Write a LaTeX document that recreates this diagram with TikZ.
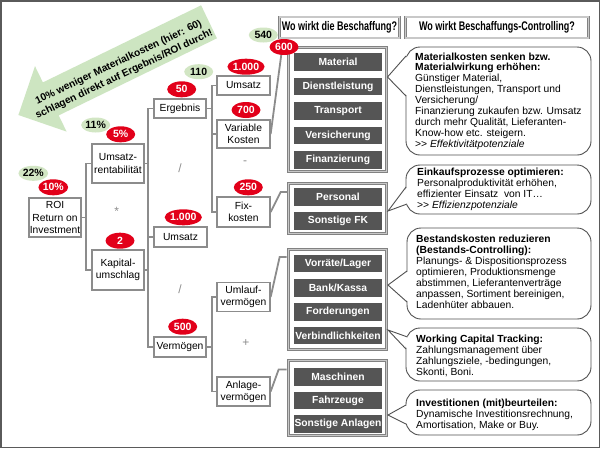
\documentclass[tikz,border=0pt]{standalone}
\usepackage{fontspec}
\setmainfont{Liberation Sans}
\newfontfamily\hdrfont[FakeStretch=0.72]{Liberation Sans}
\usetikzlibrary{shapes.geometric}
\definecolor{lgray}{RGB}{140,140,140}
\definecolor{boxgray}{RGB}{130,130,130}
\definecolor{boxlight}{RGB}{200,200,200}
\definecolor{dgray}{RGB}{85,85,85}
\definecolor{redn}{RGB}{226,0,26}
\definecolor{greenn}{RGB}{210,230,196}
\definecolor{arrowgreen}{RGB}{205,229,193}
\definecolor{framec}{RGB}{90,90,90}
\definecolor{bubc}{RGB}{80,80,80}
\definecolor{symc}{RGB}{140,140,140}
\begin{document}
\begin{tikzpicture}[x=1pt,y=-1pt,
  tbox/.style={draw=lgray, line width=1.8pt, fill=white, align=center, inner sep=0pt,
    minimum width=52.5pt, font=\fontsize{10.3}{12.3}\selectfont},
  gbox/.style={draw=boxgray, line width=0.8pt, double=boxlight, double distance=1.2pt, fill=white, inner sep=0pt},
  dbox/.style={fill=dgray, text=white, minimum width=88pt, minimum height=17.5pt, inner sep=0pt,
    font=\bfseries\fontsize{10.3}{12}\selectfont},
  hdr/.style={draw=boxgray, line width=0.8pt, double=boxlight, double distance=1.2pt, fill=white,
    inner sep=0pt, minimum height=21pt, font=\hdrfont\bfseries\fontsize{12.5}{14}\selectfont},
  rednum/.style={ellipse, fill=redn, text=white, minimum width=29pt, minimum height=16pt,
    inner sep=0pt, font=\bfseries\fontsize{10.5}{12}\selectfont},
  greennum/.style={ellipse, fill=greenn, text=black, minimum width=29pt, minimum height=15pt,
    inner sep=0pt, font=\bfseries\fontsize{10.5}{12}\selectfont},
  conn/.style={draw=lgray, line width=1.8pt},
  bub/.style={draw=bubc, line width=0.9pt, fill=white, rounded corners=14pt},
  bubp/.style={draw=bubc, line width=0.9pt},
  btext/.style={anchor=west, align=left, inner sep=0pt, font=\fontsize{10.3}{10.9}\selectfont},
  sym/.style={text=symc, inner sep=0pt, font=\fontsize{12}{12}\selectfont}
]
\useasboundingbox (0,0) rectangle (600,448);
\fill[white] (0,0) rectangle (600,448);
\draw[framec, line width=1.5pt] (0.75,0.75) rectangle (599.25,447.25);

% big green arrow
\fill[arrowgreen] (18.4,115) -- (66.6,131.6) -- (58.7,115.4) -- (216.9,38.3)
  -- (201.1,5.3) -- (42.9,82.4) -- (35,66.2) -- cycle;
\node[rotate=25.5, align=center, inner sep=0pt, font=\bfseries\fontsize{10.2}{13}\selectfont]
  (arrtxt) at (121.5,68.5) {10\% weniger Materialkosten (hier: 60)\\schlagen direkt auf Ergebnis/ROI durch!};

% tree boxes
\node[tbox, minimum height=39pt] (roi) at (55,217.5) {ROI\\Return on\\Investment};
\node[tbox, minimum height=39pt] (ur) at (118,163.5) {Umsatz-\\rentabilität};
\node[tbox, minimum height=40pt] (ku) at (118,270) {Kapital-\\umschlag};
\node[tbox, minimum height=19.5pt] (erg) at (180,108.5) {Ergebnis};
\node[tbox, minimum height=20pt] (ums2) at (180.5,237) {Umsatz};
\node[tbox, minimum height=20pt] (verm) at (180,347) {Vermögen};
\node[tbox, minimum height=19pt] (ums1) at (243.5,85.5) {Umsatz};
\node[tbox, minimum height=28pt] (vk) at (243.5,134) {Variable\\Kosten};
\node[tbox, minimum height=30pt] (fk) at (243.5,212) {Fix-\\kosten};
\node[tbox, minimum height=29pt] (uv) at (243.5,297) {Umlauf-\\vermögen};
\node[tbox, minimum height=29pt] (av) at (243.5,391.5) {Anlage-\\vermögen};

% bracket connectors
\coordinate (b1) at (86,0);
\coordinate (b2) at (148,0);
\coordinate (b3) at (212,0);
\draw[conn] (ur.west) -- (ur.west -| b1) -- (ku.west -| b1) -- (ku.west);
\draw[conn] (roi.east) -- (roi.east -| b1);
\draw[conn] (erg.west) -- (erg.west -| b2) -- (verm.west -| b2) -- (verm.west);
\draw[conn] (ums2.west) -- (ums2.west -| b2);
\draw[conn] (ur.east) -- (ur.east -| b2);
\draw[conn] (ku.east) -- (ku.east -| b2);
\draw[conn] (ums1.west) -- (ums1.west -| b3) -- (fk.west -| b3) -- (fk.west);
\draw[conn] (vk.west) -- (vk.west -| b3);
\draw[conn] (erg.east) -- (erg.east -| b3);
\draw[conn] (uv.west) -- (uv.west -| b3) -- (av.west -| b3) -- (av.west);
\draw[conn] (verm.east) -- (verm.east -| b3);

% operators
\node[sym] (op1) at (116.7,211) {*};
\node[sym] (op2) at (180,168.5) {/};
\node[sym] (op3) at (180,289.5) {/};
\node[sym] (op4) at (245,163) {-};
\node[sym] (op5) at (246,343) {+};

% group boxes
\node[gbox, minimum width=98pt, minimum height=124pt] (g1) at (337.5,109.5) {};
\node[gbox, minimum width=98pt, minimum height=50pt] (g2) at (337.5,208.5) {};
\node[gbox, minimum width=98pt, minimum height=100pt] (g3) at (337.5,299.5) {};
\node[gbox, minimum width=98pt, minimum height=75pt] (g4) at (337.5,398) {};

\node[dbox] (d1) at (338,62) {Material};
\node[dbox] (d2) at (338,86.5) {Dienstleistung};
\node[dbox] (d3) at (338,111) {Transport};
\node[dbox] (d4) at (338,135.5) {Versicherung};
\node[dbox] (d5) at (338,160) {Finanzierung};
\node[dbox] (d6) at (338,197) {Personal};
\node[dbox] (d7) at (338,221) {Sonstige FK};
\node[dbox] (d8) at (338,263.5) {Vorräte/Lager};
\node[dbox] (d9) at (338,288) {Bank/Kassa};
\node[dbox] (d10) at (338,312) {Forderungen};
\node[dbox] (d11) at (338,335.5) {Verbindlichkeiten};
\node[dbox] (d12) at (338,377) {Maschinen};
\node[dbox] (d13) at (338,400.5) {Fahrzeuge};
\node[dbox] (d14) at (338,424) {Sonstige Anlagen};

% slash connectors to groups
\draw[conn] (vk.east) -- ++(11,-82) -- ++(7,0);
\draw[conn] (fk.east) -- ++(10,-20) -- ++(7,0);
\draw[conn] (uv.east) -- ++(9,-40) -- ++(7,0);
\draw[conn] (av.east) -- ++(8,-22) -- ++(8,0);

% headers
\node[hdr, minimum width=120pt] (h1) at (339.5,27.5) {Wo wirkt die Beschaffung?};
\node[hdr, minimum width=183pt] (h2) at (497,27.5) {Wo wirkt Beschaffungs-Controlling?};

% bubbles
\draw[bub] (406,47) rectangle (591,155);
\fill[white] (407.5,56) -- (387.5,77) -- (407.5,96) -- cycle;
\draw[bubp] (406,56) -- (387.5,77) -- (406,96);
\node[btext] (t1) at (415,101) {\textbf{Materialkosten senken bzw.}\\\textbf{Materialwirkung erhöhen:}\\Günstiger Material,\\Dienstleistungen, Transport und\\Versicherung/\\Finanzierung zukaufen bzw. Umsatz\\durch mehr Qualität, Lieferanten-\\Know-how etc. steigern.\\>{}> \textit{Effektivitätpotenziale}};

\draw[bub] (406,165) rectangle (591,214);
\fill[white] (407.5,187) -- (388,211) -- (408.5,204) -- cycle;
\draw[bubp] (406,187) -- (388,211) -- (407,204);
\node[btext] (t2) at (417,189) {\textbf{Einkaufsprozesse optimieren:}\\Personalproduktivität erhöhen,\\effizienter Einsatz\ \ von IT…\\>{}> \textit{Effizienzpotenziale}};

\draw[bub] (407,228) rectangle (591,319);
\fill[white] (408.5,271) -- (388,285) -- (408.5,302) -- cycle;
\draw[bubp] (407,271) -- (388,285) -- (407,302);
\node[btext] (t3) at (416,272) {\textbf{Bestandskosten reduzieren}\\\textbf{(Bestands-Controlling):}\\Planungs- \& Dispositionsprozess\\optimieren, Produktionsmenge\\abstimmen, Lieferantenverträge\\anpassen, Sortiment bereinigen,\\Ladenhüter abbauen.};

\draw[bub] (406,328) rectangle (591,381);
\fill[white] (409,337) -- (388,330) -- (408,349) -- cycle;
\draw[bubp] (407.5,337) -- (388,330) -- (406,349);
\node[btext] (t4) at (416,356) {\textbf{Working Capital Tracking:}\\Zahlungsmanagement über\\Zahlungsziele, -bedingungen,\\Skonti, Boni.};

\draw[bub] (406,390) rectangle (591,435);
\fill[white] (407.5,405) -- (388,415) -- (407.5,424) -- cycle;
\draw[bubp] (406,405) -- (388,415) -- (406,424);
\node[btext] (t5) at (416,414.5) {\textbf{Investitionen (mit)beurteilen:}\\Dynamische Investitionsrechnung,\\Amortisation, Make or Buy.};

% number ellipses
\node[greennum] (n540) at (263.3,35) {540};
\node[greennum] (n110) at (198.7,71.7) {110};
\node[greennum] (n11) at (95.7,125) {11\%};
\node[greennum] (n22) at (33.3,173.3) {22\%};
\node[rednum] (n600) at (284,47) {600};
\node[rednum] (n1000a) at (246,66.7) {1.000};
\node[rednum] (n700) at (246,110) {700};
\node[rednum] (n50) at (181.7,89.3) {50};
\node[rednum] (n5) at (120.7,134.3) {5\%};
\node[rednum] (n10) at (53.3,187.3) {10\%};
\node[rednum] (n250) at (248.3,187.3) {250};
\node[rednum] (n1000b) at (183.3,217.3) {1.000};
\node[rednum] (n2) at (120,240.7) {2};
\node[rednum] (n500) at (182.7,326.7) {500};
\end{tikzpicture}
\end{document}
